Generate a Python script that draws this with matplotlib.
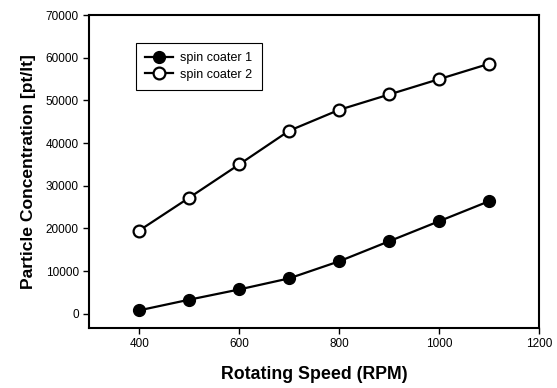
import matplotlib
matplotlib.use("Agg")
import matplotlib.pyplot as plt

rpm = [400, 500, 600, 700, 800, 900, 1000, 1100]
coater1 = [800, 3300, 5700, 8300, 12300, 17000, 21700, 26400]
coater2 = [19500, 27200, 35000, 42900, 47800, 51400, 55000, 58600]
labels = ["spin coater 1", "spin coater 2"]

plt.rcParams['font.family'] = ['Liberation Sans', 'DejaVu Sans']

fig = plt.figure(figsize=(5.57, 3.88), dpi=100)
ax = fig.add_axes([0.160, 0.155, 0.808, 0.806])

ax.plot(rpm, coater1, '-o', color='black', lw=1.6, markersize=8.5,
        markerfacecolor='black', markeredgecolor='black', label=labels[0])
ax.plot(rpm, coater2, '-o', color='black', lw=1.6, markersize=8.5,
        markerfacecolor='white', markeredgecolor='black', markeredgewidth=1.6,
        label=labels[1])

ax.set_xlim(300, 1200)
ax.set_ylim(-3300, 70000)
ax.set_xticks([400, 600, 800, 1000, 1200])
ax.set_yticks(range(0, 70001, 10000))
ax.tick_params(direction='out', length=4, width=1, labelsize=8.5, colors='black')
for s in ax.spines.values():
    s.set_linewidth(1.5)

ax.set_xlabel("Rotating Speed (RPM)", fontsize=12.8, fontweight='bold', labelpad=11)
ax.set_ylabel("Particle Concentration [pt/lt]", fontsize=12.6, fontweight='bold', labelpad=7)

leg = ax.legend(loc='upper left', bbox_to_anchor=(0.104, 0.911), fontsize=9,
                frameon=True, fancybox=False, edgecolor='black', framealpha=1,
                borderpad=0.75, handlelength=2.2, labelspacing=0.35, borderaxespad=0,
                handletextpad=0.6)
leg.get_frame().set_linewidth(0.8)

fig.savefig("out.png", dpi=100)
